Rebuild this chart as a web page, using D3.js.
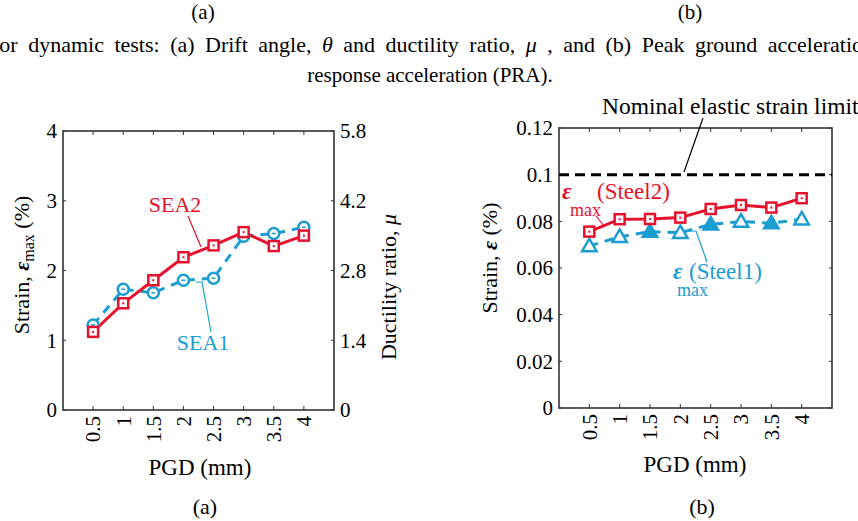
<!DOCTYPE html>
<html>
<head>
<meta charset="utf-8">
<script src="https://cdn.jsdelivr.net/npm/d3@7"></script>
<style>
  body { margin: 0; background: #fff; overflow: hidden; }
</style>
</head>
<body>
<svg id="fig" width="858" height="521"></svg>
<script>
// données
const pgd = [0.5, 1, 1.5, 2, 2.5, 3, 3.5, 4];
const pgdLabels = ["0.5", "1", "1.5", "2", "2.5", "3", "3.5", "4"];

// (a) déformation max des SEA
const sea2 = [1.12, 1.53, 1.86, 2.19, 2.36, 2.55, 2.35, 2.50];
const sea1 = [1.22, 1.73, 1.68, 1.86, 1.89, 2.49, 2.53, 2.62];
const strainTicksA = [0, 1, 2, 3, 4];
const muTickLabels = ["0", "1.4", "2.8", "4.2", "5.8"];

// (b) déformation des aciers
const steel2 = [0.0756, 0.0809, 0.0810, 0.0816, 0.0853, 0.0870, 0.0859, 0.0899];
const steel1 = [0.0694, 0.0734, 0.0756, 0.0751, 0.0787, 0.0799, 0.0792, 0.0809];
const strainTicksB = [0, 0.02, 0.04, 0.06, 0.08, 0.1, 0.12];
const elasticLimit = 0.1;

const red = "#e6122d";
const blue = "#1c9dd2";
const axisCol = "#333";
const FONT = '"Liberation Serif", monospace';

const svg = d3.select("#fig");

// texte en police serif (à fixer sur chaque élément)
function txt(g, size) {
  return g.append("text").attr("font-family", FONT).attr("font-size", size);
}

//---------------------------------------------------------------------------------------
// titraille du haut (légende de la figure précédente, tronquée)

txt(svg, 21).attr("x", 203).attr("y", 19).attr("text-anchor", "middle").text("(a)");
txt(svg, 21).attr("x", 690).attr("y", 19).attr("text-anchor", "middle").text("(b)");

// ligne justifiée : espacement des mots élargi
const cap = txt(svg, 22).attr("x", -8).attr("y", 52).attr("word-spacing", 5);
cap.append("tspan").text("for dynamic tests: (a) Drift angle, ");
cap.append("tspan").attr("font-style", "italic").text("θ");
cap.append("tspan").text(" and ductility ratio, ");
cap.append("tspan").attr("font-style", "italic").text("μ");
cap.append("tspan").text(" , and (b) Peak ground acceleration (PGA) and");

txt(svg, 21).attr("x", 430).attr("y", 82).attr("text-anchor", "middle")
  .text("response acceleration (PRA).");

//---------------------------------------------------------------------------------------
// fonction de dessin d'un cadre avec ses graduations

function drawFrame(g, x, y, yTicks, yFmt) {
  const [x0, x1] = x.range();
  const [y0, y1] = y.range();

  // petites graduations intérieures (bas, haut)
  pgd.forEach(v => {
    g.append("line").attr("x1", x(v)).attr("x2", x(v)).attr("y1", y0).attr("y2", y0 - 4)
      .attr("stroke", axisCol).attr("stroke-width", 1);
    g.append("line").attr("x1", x(v)).attr("x2", x(v)).attr("y1", y1).attr("y2", y1 + 4)
      .attr("stroke", axisCol).attr("stroke-width", 1);
  });
  // graduations gauche / droite
  yTicks.forEach(v => {
    g.append("line").attr("x1", x0).attr("x2", x0 + 3).attr("y1", y(v)).attr("y2", y(v))
      .attr("stroke", axisCol).attr("stroke-width", 1);
    g.append("line").attr("x1", x1).attr("x2", x1 - 3).attr("y1", y(v)).attr("y2", y(v))
      .attr("stroke", axisCol).attr("stroke-width", 1);
    txt(g, 21).attr("x", x0 - 6).attr("y", y(v)).attr("dy", "0.35em")
      .attr("text-anchor", "end").text(yFmt(v));
  });

  // étiquettes de l'axe x, tournées
  pgd.forEach((v, i) => {
    txt(g, 21)
      .attr("transform", `translate(${x(v)},${y0 + 6}) rotate(-90)`)
      .attr("text-anchor", "end").attr("dy", "0.35em")
      .text(pgdLabels[i]);
  });

  g.append("rect").attr("x", x0).attr("y", y1).attr("width", x1 - x0).attr("height", y0 - y1)
    .attr("fill", "none").attr("stroke", axisCol).attr("stroke-width", 1.6);
}

// marqueurs
function squares(g, data, x, y, col) {
  data.forEach((v, i) => {
    const cx = x(pgd[i]), cy = y(v);
    g.append("rect").attr("x", cx - 5).attr("y", cy - 5).attr("width", 10).attr("height", 10)
      .attr("fill", "#fff").attr("stroke", col).attr("stroke-width", 2.5);
    g.append("rect").attr("x", cx - 1).attr("y", cy - 1).attr("width", 2).attr("height", 2)
      .attr("fill", col);
  });
}

function circles(g, data, x, y, col) {
  data.forEach((v, i) => {
    const cx = x(pgd[i]), cy = y(v);
    g.append("circle").attr("cx", cx).attr("cy", cy).attr("r", 5.5)
      .attr("fill", "#fff").attr("stroke", col).attr("stroke-width", 2.5);
    g.append("line").attr("x1", cx - 2).attr("x2", cx + 2).attr("y1", cy).attr("y2", cy)
      .attr("stroke", col).attr("stroke-width", 1.5);
  });
}

function triangles(g, data, x, y, col) {
  const tri = d3.symbol().type(d3.symbolTriangle).size(90);
  data.forEach((v, i) => {
    g.append("path").attr("d", tri())
      .attr("transform", `translate(${x(pgd[i])},${y(v) + 1})`)
      .attr("fill", i % 2 === 0 && i > 0 ? col : "#fff")
      .attr("stroke", col).attr("stroke-width", 2.5);
  });
}

//---------------------------------------------------------------------------------------
// (a) SEA1 / SEA2

const xA = d3.scaleLinear().domain([0, 4.5]).range([63, 334]);
const yA = d3.scaleLinear().domain([0, 4]).range([410, 131]);
const gA = svg.append("g");

drawFrame(gA, xA, yA, strainTicksA, d3.format("d"));

// axe de droite : ductilité
strainTicksA.forEach((v, i) => {
  txt(gA, 21).attr("x", 340).attr("y", yA(v)).attr("dy", "0.35em").text(muTickLabels[i]);
});

const lineA = d => d3.line().x((v, i) => xA(pgd[i])).y(v => yA(v))(d);

gA.append("path").attr("d", lineA(sea1)).attr("fill", "none")
  .attr("stroke", blue).attr("stroke-width", 3).attr("stroke-dasharray", "9,7");
gA.append("path").attr("d", lineA(sea2)).attr("fill", "none")
  .attr("stroke", red).attr("stroke-width", 3);
circles(gA, sea1, xA, yA, blue);
squares(gA, sea2, xA, yA, red);

// annotations
txt(gA, 22).attr("x", 175).attr("y", 212).attr("text-anchor", "middle")
  .attr("fill", red).text("SEA2");
gA.append("line").attr("x1", 188).attr("y1", 216).attr("x2", 201).attr("y2", 247)
  .attr("stroke", red).attr("stroke-width", 1.2);

txt(gA, 22).attr("x", 203).attr("y", 350).attr("text-anchor", "middle")
  .attr("fill", blue).text("SEA1");
gA.append("polyline").attr("points", "196,282 202,282 211,332")
  .attr("fill", "none").attr("stroke", blue).attr("stroke-width", 1.2);

// titres des axes
const yLabA = txt(gA, 22).attr("transform", "translate(29,265) rotate(-90)")
  .attr("text-anchor", "middle");
yLabA.append("tspan").text("Strain, ");
yLabA.append("tspan").attr("font-weight", "bold").attr("font-style", "italic").text("ε");
yLabA.append("tspan").attr("font-size", 16).attr("dy", 5).text("max");
yLabA.append("tspan").attr("dy", -5).text(" (%)");

const yLabA2 = txt(gA, 22).attr("transform", "translate(396,287) rotate(-90)")
  .attr("text-anchor", "middle");
yLabA2.append("tspan").text("Ductility ratio, ");
yLabA2.append("tspan").attr("font-style", "italic").text("μ");

txt(gA, 23).attr("x", 200).attr("y", 475).attr("text-anchor", "middle").text("PGD (mm)");
txt(gA, 22).attr("x", 205).attr("y", 514).attr("text-anchor", "middle").text("(a)");

//---------------------------------------------------------------------------------------
// (b) aciers

const xB = d3.scaleLinear().domain([0, 4.5]).range([559, 832]);
const yB = d3.scaleLinear().domain([0, 0.12]).range([408, 128]);
const gB = svg.append("g");

drawFrame(gB, xB, yB, strainTicksB, d => d === 0 ? "0" : d3.format("")(+d.toFixed(2)));

// limite élastique nominale
gB.append("line").attr("x1", xB(0)).attr("x2", xB(4.5)).attr("y1", yB(elasticLimit)).attr("y2", yB(elasticLimit))
  .attr("stroke", "#000").attr("stroke-width", 3).attr("stroke-dasharray", "10,6");

const lineB = d => d3.line().x((v, i) => xB(pgd[i])).y(v => yB(v))(d);

gB.append("path").attr("d", lineB(steel1)).attr("fill", "none")
  .attr("stroke", blue).attr("stroke-width", 3).attr("stroke-dasharray", "9,7");
gB.append("path").attr("d", lineB(steel2)).attr("fill", "none")
  .attr("stroke", red).attr("stroke-width", 3);
triangles(gB, steel1, xB, yB, blue);
squares(gB, steel2, xB, yB, red);

// annotations
txt(gB, 23.5).attr("x", 602).attr("y", 114).text("Nominal elastic strain limit");
gB.append("line").attr("x1", 703).attr("y1", 118).attr("x2", 684).attr("y2", 172)
  .attr("stroke", "#000").attr("stroke-width", 1.2);

const s2 = txt(gB, 23).attr("x", 562).attr("y", 199).attr("fill", red);
s2.append("tspan").attr("font-weight", "bold").attr("font-style", "italic").text("ε");
s2.append("tspan").attr("x", 570).attr("y", 216).attr("font-size", 18).text("max");
s2.append("tspan").attr("x", 597).attr("y", 199).text("(Steel2)");
gB.append("line").attr("x1", 596).attr("y1", 216).attr("x2", 604).attr("y2", 226)
  .attr("stroke", red).attr("stroke-width", 1.2);

const s1 = txt(gB, 23).attr("x", 673).attr("y", 279).attr("fill", blue);
s1.append("tspan").attr("font-weight", "bold").attr("font-style", "italic").text("ε");
s1.append("tspan").attr("x", 677).attr("y", 296).attr("font-size", 18).text("max");
s1.append("tspan").attr("x", 689).attr("y", 279).text("(Steel1)");
gB.append("polyline").attr("points", "688,231 696,231 707,262")
  .attr("fill", "none").attr("stroke", blue).attr("stroke-width", 1.2);

const yLabB = txt(gB, 22).attr("transform", "translate(497,258) rotate(-90)")
  .attr("text-anchor", "middle");
yLabB.append("tspan").text("Strain, ");
yLabB.append("tspan").attr("font-weight", "bold").attr("font-style", "italic").text("ε");
yLabB.append("tspan").text(" (%)");

txt(gB, 23).attr("x", 695).attr("y", 472).attr("text-anchor", "middle").text("PGD (mm)");
txt(gB, 22).attr("x", 702).attr("y", 514).attr("text-anchor", "middle").text("(b)");
</script>
</body>
</html>
